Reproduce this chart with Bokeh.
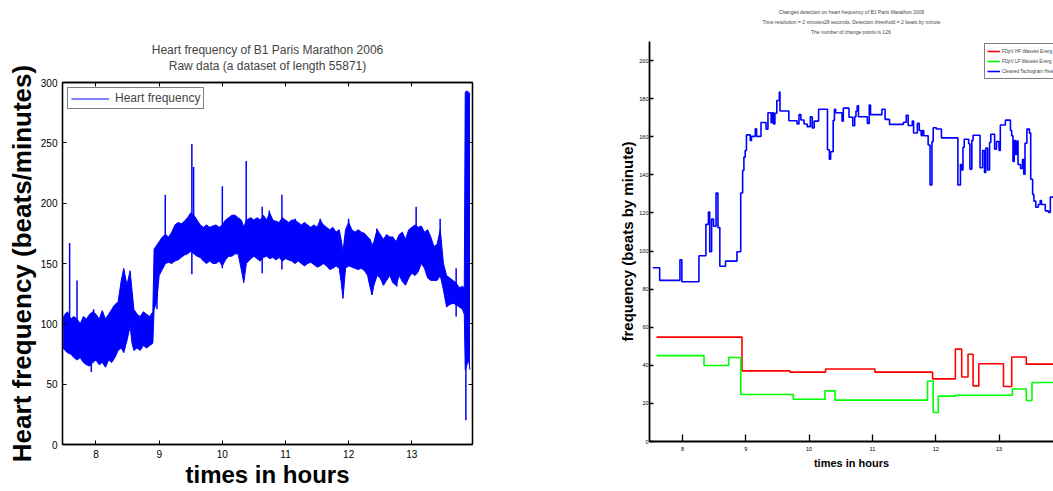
from bokeh.plotting import figure
from bokeh.models import Range1d, FixedTicker, LinearAxis, Legend, LegendItem, Title
from bokeh.layouts import row, column
from bokeh.embed import file_html
from bokeh.resources import INLINE

# ---------------- Left panel: raw heart frequency (envelope read per time column) ----------------
raw_t = [7.48, 7.51, 7.55, 7.60, 7.65, 7.70, 7.75, 7.80, 7.85, 7.90, 7.95, 8.00, 8.05, 8.10, 8.15,
         8.20, 8.25, 8.30, 8.35, 8.40, 8.44, 8.49, 8.54, 8.57, 8.60, 8.65, 8.70, 8.75, 8.80, 8.85,
         8.90, 8.92, 8.96, 9.00, 9.05, 9.10, 9.15, 9.20, 9.25, 9.30, 9.35, 9.40, 9.45, 9.50, 9.55,
         9.60, 9.65, 9.70, 9.75, 9.80, 9.85, 9.90, 9.95, 10.00, 10.05, 10.10, 10.15, 10.20, 10.25,
         10.30, 10.34, 10.38, 10.45, 10.50, 10.55, 10.60, 10.65, 10.70, 10.75, 10.80, 10.85, 10.90,
         10.95, 11.00, 11.05, 11.10, 11.15, 11.20, 11.25, 11.30, 11.35, 11.40, 11.45, 11.50, 11.55,
         11.60, 11.65, 11.70, 11.75, 11.80, 11.85, 11.88, 11.91, 11.95, 12.00, 12.05, 12.10, 12.15,
         12.20, 12.25, 12.30, 12.34, 12.37, 12.40, 12.45, 12.50, 12.55, 12.60, 12.65, 12.70, 12.75,
         12.80, 12.85, 12.90, 12.95, 13.00, 13.05, 13.10, 13.15, 13.20, 13.25, 13.30, 13.35, 13.40,
         13.45, 13.50, 13.55, 13.60, 13.65, 13.70, 13.75, 13.80, 13.83, 13.845, 13.87, 13.90, 13.92]
raw_lo = [80, 78, 76, 75, 72, 70, 72, 68, 66, 65, 68, 70, 66, 68, 64,
          70, 68, 72, 78, 80, 76, 86, 98, 84, 78, 80, 78, 82, 80, 82,
          84, 112, 118, 140, 145, 150, 151, 150, 152, 153, 155, 157, 158, 160, 158,
          156, 155, 152, 150, 152, 150, 150, 152, 148, 153, 156, 156, 158, 158,
          145, 134, 150, 154, 156, 154, 152, 155, 156, 154, 155, 153, 155,
          152, 154, 153, 152, 150, 152, 150, 148, 150, 151, 149, 147, 148,
          150, 148, 145, 146, 148, 146, 135, 121, 146, 148, 147, 146, 145,
          146, 144, 140, 130, 124, 132, 140, 138, 132, 136, 140, 134, 132,
          140, 135, 132, 138, 142, 140, 143, 150, 146, 138, 136, 136, 136,
          140, 128, 114, 116, 117, 116, 114, 112, 108, 62, 66, 70, 62]
raw_hi = [105, 108, 110, 104, 106, 104, 100, 106, 104, 108, 110, 108, 104, 111, 104,
          108, 112, 116, 118, 136, 146, 132, 144, 128, 112, 108, 106, 110, 108, 106,
          110, 162, 165, 168, 172, 174, 172, 176, 182, 184, 183, 185, 188, 192, 190,
          186, 182, 180, 182, 180, 181, 182, 180, 182, 186, 188, 190, 190, 188,
          186, 180, 186, 188, 186, 188, 186, 190, 186, 192, 186, 185, 184,
          188, 186, 184, 186, 186, 184, 182, 184, 182, 180, 182, 180, 186,
          182, 180, 178, 180, 176, 178, 170, 160, 178, 184, 178, 176, 178,
          176, 175, 172, 170, 165, 168, 178, 174, 170, 174, 172, 172, 168,
          174, 176, 170, 178, 180, 182, 180, 181, 176, 178, 172, 164, 166,
          178, 150, 140, 138, 136, 134, 130, 131, 130, 292, 293, 292, 290]

spike_t = [7.583, 7.70, 7.926, 7.963, 8.279, 8.965, 9.097, 9.518, 9.545, 10.0, 10.378, 10.631,
           10.742, 10.943, 11.154, 11.55, 11.998, 12.367, 12.446, 12.552, 12.762, 13.068, 13.448,
           13.701, 13.855]
spike_lo = [100, 100, 60, 90, 90, 112, 160, 141, 170, 146, 160, 142,
            160, 145, 155, 160, 160, 124, 150, 132, 131, 150, 150,
            106, 20]
spike_hi = [167, 136, 80, 112, 115, 140, 207, 249, 230, 214, 235, 197,
            194, 207, 187, 187, 187, 150, 179, 150, 150, 197, 187,
            146, 100]

# ---------------- Right panel: change detection (piecewise-constant segments) ----------------
hf_start = [7.59, 8.94, 9.70, 10.26, 11.04, 11.95, 12.31, 12.41, 12.51, 12.59, 12.68, 13.07, 13.20, 13.43]
hf_val = [54.8, 37.1, 36.4, 38.1, 36.4, 32.9, 48.5, 33.9, 45.8, 29.2, 40.8, 28.9, 44.4, 40.6]
lf_start = [7.59, 8.34, 8.73, 8.92, 9.75, 10.25, 10.41, 11.87, 11.96, 12.04, 12.31, 13.21, 13.43, 13.52]
lf_val = [45.1, 39.9, 44.1, 24.7, 22.2, 26.6, 21.7, 31.8, 15.2, 23.8, 24.3, 27.6, 21.5, 31.0]
tach_start = [7.53, 7.64, 7.96, 7.99, 8.26, 8.37, 8.41, 8.43, 8.46, 8.49, 8.53, 8.56, 8.59, 8.68,
              8.86, 8.92, 8.95, 8.97, 8.99, 9.01, 9.07, 9.09, 9.15, 9.17, 9.24, 9.32, 9.35, 9.40,
              9.42, 9.44, 9.46, 9.49, 9.53, 9.54, 9.68, 9.81, 9.84, 9.87, 9.92, 9.97, 10.02, 10.05,
              10.08, 10.15, 10.29, 10.32, 10.34, 10.38, 10.40, 10.42, 10.52, 10.54, 10.63, 10.69,
              10.72, 10.74, 10.76, 10.78, 10.92, 10.95, 10.97, 11.15, 11.20, 11.27, 11.49, 11.535,
              11.565, 11.63, 11.65, 11.71, 11.74, 11.77, 11.79, 11.81, 11.88, 11.91, 11.94, 11.96,
              12.01, 12.09, 12.35, 12.39, 12.41, 12.43, 12.45, 12.52, 12.54, 12.57, 12.59, 12.70,
              12.74, 12.77, 12.79, 12.82, 12.85, 12.87, 12.93, 12.96, 13.00, 13.02, 13.10, 13.18,
              13.20, 13.22, 13.24, 13.26, 13.28, 13.30, 13.34, 13.37, 13.39, 13.41, 13.44, 13.48,
              13.50, 13.53, 13.55, 13.58, 13.62, 13.65, 13.67, 13.73, 13.78, 13.81]
tach_val = [91.2, 84.6, 95.4, 83.9, 97.5, 114.0, 120.5, 99.6, 116.8, 113.0, 130.4, 112.3, 92.0, 94.7,
            99.6, 130.5, 142.3, 149.3, 152.8, 161.0, 158.0, 160.2, 164.2, 160.2, 167.5, 163.9, 172.6, 167.4,
            172.6, 166.7, 172.3, 179.0, 183.5, 173.5, 168.4, 166.7, 171.6, 168.8, 166.7, 165.3, 170.5, 164.6,
            168.2, 174.4, 153.2, 148.2, 152.1, 168.6, 174.4, 172.6, 168.2, 175.0, 170.2, 165.8,
            170.5, 173.5, 176.3, 170.5, 167.0, 176.7, 171.6, 174.4, 169.1, 166.5, 167.6, 171.3,
            165.9, 168.2, 162.0, 167.0, 163.3, 160.6, 163.3, 160.5, 155.7, 134.7, 157.5, 164.7,
            164.1, 159.4, 134.7, 145.4, 142.6, 154.5, 158.7, 156.3, 143.0, 158.0, 160.8, 143.7,
            152.8, 141.2, 154.0, 142.6, 157.0, 161.3, 153.5, 157.5, 152.8, 166.2, 168.7, 163.3,
            160.5, 147.0, 158.0, 150.7, 157.8, 145.4, 143.3, 148.0, 140.3, 156.6, 164.0, 161.9,
            137.7, 129.7, 126.2, 123.0, 124.4, 126.5, 124.4, 121.1, 120.2, 128.3]
seg_end = 13.95

FONT = "Liberation Sans"
xt = [8, 9, 10, 11, 12, 13]
yt = [0, 50, 100, 150, 200, 250, 300]


def spacer_axis(ticks, gap):
    """Invisible axis that only reserves `gap` pixels between the frame and the titles."""
    ax = LinearAxis(ticker=FixedTicker(ticks=ticks))
    ax.major_label_overrides = {t: "" for t in ticks}
    ax.axis_line_color = None
    ax.major_tick_line_color = None
    ax.minor_tick_line_color = None
    ax.major_tick_in = 0
    ax.major_tick_out = gap
    ax.major_label_standoff = 0
    ax.major_label_text_font_size = "1px"
    return ax


# ---------------- Left figure ----------------
p1 = figure(width=560, height=491, x_range=Range1d(7.47, 13.96), y_range=Range1d(0, 300),
            output_backend="svg", toolbar_location=None, title=None,
            min_border_left=62, min_border_right=88, min_border_top=82, min_border_bottom=47)
p1.grid.visible = False
p1.outline_line_color = "black"
p1.outline_line_width = 1.3
bottom_ax = p1.below[0]
left_ax = p1.left[0]

# box ticks on top and right
for side, ticks in (("above", xt), ("right", yt)):
    ax = LinearAxis(ticker=FixedTicker(ticks=ticks))
    ax.major_label_overrides = {t: "" for t in ticks}
    ax.major_tick_in = 4
    ax.major_tick_out = 0
    ax.minor_tick_line_color = None
    ax.axis_line_color = "black"
    ax.axis_line_width = 1.3
    ax.major_label_text_font_size = "1px"
    ax.major_label_standoff = 0
    p1.add_layout(ax, side)
p1.add_layout(spacer_axis(xt, 10), "above")

for txt in ("Raw data (a dataset of length 55871)", "Heart frequency of B1 Paris Marathon 2006"):
    p1.add_layout(Title(text=txt, align="center", text_font=FONT, text_font_size="12px",
                        text_font_style="normal", standoff=0), "above")

p1.varea(x=raw_t, y1=raw_lo, y2=raw_hi, fill_color="#0000FF")
p1.line(raw_t, raw_lo, line_color="#0000FF", line_width=1)
hf_line = p1.line(raw_t, raw_hi, line_color="#0000FF", line_width=1)
p1.segment(x0=spike_t, y0=spike_lo, x1=spike_t, y1=spike_hi, line_color="#0000FF", line_width=1.5)

for ax, ticks in ((bottom_ax, xt), (left_ax, yt)):
    ax.ticker = FixedTicker(ticks=ticks)
    ax.major_tick_in = 4
    ax.major_tick_out = 0
    ax.minor_tick_line_color = None
    ax.axis_line_color = "black"
    ax.axis_line_width = 1.3
    ax.major_label_text_font = FONT
    ax.major_label_text_font_size = "10px"
    ax.major_label_text_color = "black"
    ax.axis_label_text_font = FONT
    ax.axis_label_text_font_style = "bold"
    ax.axis_label_text_color = "black"
bottom_ax.major_label_standoff = 5
bottom_ax.axis_label_standoff = 0
bottom_ax.axis_label = "times in hours"
bottom_ax.axis_label_text_font_size = "24px"
left_ax.major_label_standoff = 5
left_ax.axis_label_standoff = 1
left_ax.axis_label = "Heart frequency (beats/minutes)"
left_ax.axis_label_text_font_size = "26px"

leg1 = Legend(items=[LegendItem(label="Heart frequency", renderers=[hf_line])],
              location="top_left", margin=5, padding=3, spacing=0,
              glyph_width=38, glyph_height=9, label_height=9, label_standoff=6,
              label_text_font=FONT, label_text_font_size="12px",
              border_line_color="black", border_line_width=1.5, background_fill_alpha=1)
p1.add_layout(leg1)

# ---------------- Right figure ----------------
p2 = figure(width=493, height=491, x_range=Range1d(7.479, 13.86), y_range=Range1d(0, 210),
            output_backend="svg", toolbar_location=None, title=None,
            min_border_left=89, min_border_right=0, min_border_top=41, min_border_bottom=50)
p2.add_layout(spacer_axis(xt, 6), "above")
for txt in ("The number of  change points is 126",
            "Time resolution = 2 minutes28 seconds. Detection threshold = 2 beats by minute",
            "Changes detection on heart frequency of B1 Paris Marathon 2006"):
    p2.add_layout(Title(text=txt, align="center", text_font=FONT, text_font_size="5px",
                        text_font_style="normal", standoff=1.5), "above")
p2.grid.visible = False
p2.outline_line_color = None

r_hf = p2.step(hf_start + [seg_end], hf_val + [hf_val[-1]], mode="after", line_color="#FF0000", line_width=1.6)
r_lf = p2.step(lf_start + [seg_end], lf_val + [lf_val[-1]], mode="after", line_color="#00FF00", line_width=1.6)
r_ta = p2.step(tach_start + [seg_end], tach_val + [tach_val[-1]], mode="after", line_color="#0000FF", line_width=1.6)

for ax, ticks, tin in ((p2.below[0], xt, 7), (p2.left[0], list(range(0, 201, 20)), 4)):
    ax.ticker = FixedTicker(ticks=ticks)
    ax.major_tick_in = tin
    ax.major_tick_out = 0
    ax.major_tick_line_width = 1.3
    ax.minor_tick_line_color = None
    ax.axis_line_color = "black"
    ax.axis_line_width = 1.8
    ax.major_label_text_font = FONT
    ax.major_label_text_font_size = "5.5px"
    ax.major_label_text_color = "black"
    ax.axis_label_text_font = FONT
    ax.axis_label_text_font_style = "bold"
    ax.axis_label_text_color = "black"
p2.below[0].major_label_standoff = 5
p2.below[0].axis_label = "times in hours"
p2.below[0].axis_label_text_font_size = "11px"
p2.below[0].axis_label_standoff = 3
p2.left[0].major_label_standoff = 1
p2.left[0].axis_label = "frequency (beats by minute)"
p2.left[0].axis_label_text_font_size = "15px"
p2.left[0].axis_label_standoff = 0

leg2 = Legend(items=[LegendItem(label="FDpV HF Wavelet Energ", renderers=[r_hf]),
                     LegendItem(label="FDpV LF Wavelet Energ", renderers=[r_lf]),
                     LegendItem(label="Cleaned Tachogram Hea", renderers=[r_ta])],
              location=(335, 362), margin=0, padding=2, spacing=0,
              glyph_width=13, glyph_height=10, label_height=10, label_standoff=2,
              label_text_font=FONT, label_text_font_size="4.6px",
              border_line_color="black", border_line_width=1.5, background_fill_alpha=1)
p2.add_layout(leg2)

layout = row(column(p1), column(p2))
open("out.html", "w").write(file_html(layout, INLINE))
